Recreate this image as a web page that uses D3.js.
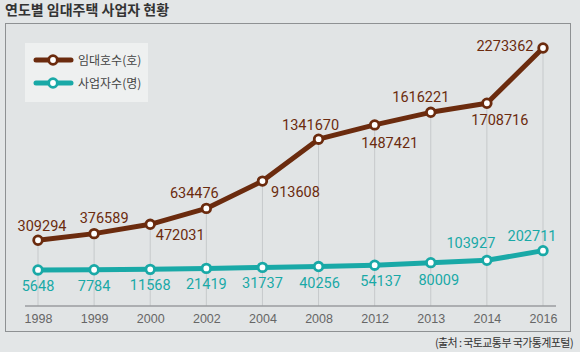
<!DOCTYPE html>
<html>
<head>
<meta charset="utf-8">
<script src="https://cdn.jsdelivr.net/npm/d3@7"></script>
<style>
  body { margin: 0; background: #e3e6e7; }
  svg { display: block; }
</style>
</head>
<body>
<div id="chart"></div>
<script>
let height = 352,
    width = 580;

// data
const years = ["1998", "1999", "2000", "2002", "2004", "2008", "2012", "2013", "2014", "2016"];
const houses = [309294, 376589, 472031, 634476, 913608, 1341670, 1487421, 1616221, 1708716, 2273362];
const owners = [5648, 7784, 11568, 21419, 31737, 40256, 54137, 80009, 103927, 202711];

// label placement (dx, baseline offset from point)
const houseLabelPos = [[4, -9], [10, -11], [30, 16], [-12, -10], [33, 16], [-8, -9], [15, 23], [-10, -10], [13, 22], [-38, 3]];
const ownerLabelPos = [[0, 21], [0, 21], [0, 21], [0, 21], [0, 21], [1, 21], [6, 21], [8, 22], [-16, -12], [-11, -10]];

const brown = "#6b2b0e",
      teal = "#19a9a7";

const svg = d3.select("#chart")
    .append("svg")
    .attr("width", width)
    .attr("height", height);

// title
svg.append("text")
    .attr("x", 5)
    .attr("y", 15)
    .attr("font-family", "'Noto Sans CJK KR', sans-serif")
    .attr("font-weight", 700)
    .attr("font-size", 14)
    .attr("fill", "#333")
    .text("연도별 임대주택 사업자 현황");

// frame
svg.append("rect")
    .attr("x", 5.5)
    .attr("y", 23.5)
    .attr("width", 565)
    .attr("height", 308)
    .attr("fill", "#e1e4e5")
    .attr("stroke", "#8e9193")
    .attr("stroke-width", 1);

let x = d3.scalePoint()
    .domain(years)
    .range([38, 543]);

let y = d3.scaleLinear()
    .domain([0, 2273362])
    .range([270.5, 48]);

// vertical guides
svg.append("g")
    .selectAll("line")
    .data(years)
    .join("line")
    .attr("x1", d => x(d))
    .attr("x2", d => x(d))
    .attr("y1", (d, i) => y(houses[i]))
    .attr("y2", 306)
    .attr("stroke", "#c6c9cb")
    .attr("stroke-width", 1);

// x axis
const xAxis = svg.append("g")
    .attr("transform", "translate(0,306)")
    .call(d3.axisBottom(x).tickSize(0).tickPadding(8));
xAxis.select(".domain")
    .attr("d", "M25,0H556")
    .attr("stroke", "#9a9d9f")
    .attr("stroke-width", 1.5);
xAxis.selectAll("text")
    .attr("font-family", "'Liberation Sans Narrow', sans-serif")
    .attr("font-size", 12.5)
    .attr("fill", "#666");

const line = d3.line()
    .x((d, i) => x(years[i]))
    .y(d => y(d));

function drawSeries(values, color, labelPos) {
    svg.append("path")
        .datum(values)
        .attr("d", line)
        .attr("fill", "none")
        .attr("stroke", color)
        .attr("stroke-width", 5)
        .attr("stroke-linejoin", "round");

    svg.append("g")
        .selectAll("circle")
        .data(values)
        .join("circle")
        .attr("cx", (d, i) => x(years[i]))
        .attr("cy", d => y(d))
        .attr("r", 4.3)
        .attr("fill", "#fff")
        .attr("stroke", color)
        .attr("stroke-width", 2.8);

    svg.append("g")
        .selectAll("text")
        .data(values)
        .join("text")
        .attr("x", (d, i) => x(years[i]) + labelPos[i][0])
        .attr("y", (d, i) => y(d) + labelPos[i][1])
        .attr("text-anchor", "middle")
        .attr("font-family", "Roboto, sans-serif")
        .attr("font-size", 14.5)
        .attr("fill", color)
        .text(d => d);
}

drawSeries(owners, teal, ownerLabelPos);
drawSeries(houses, brown, houseLabelPos);

// legend
const legend = svg.append("g");
legend.append("rect")
    .attr("x", 25)
    .attr("y", 43)
    .attr("width", 123)
    .attr("height", 59)
    .attr("fill", "#eef0f0");

const legendItems = [["임대호수(호)", brown], ["사업자수(명)", teal]];
legendItems.forEach(([name, color], i) => {
    const ly = 60 + i * 23;
    legend.append("line")
        .attr("x1", 36).attr("x2", 71)
        .attr("y1", ly).attr("y2", ly)
        .attr("stroke", color)
        .attr("stroke-width", 5)
        .attr("stroke-linecap", "round");
    legend.append("circle")
        .attr("cx", 53).attr("cy", ly)
        .attr("r", 4.3)
        .attr("fill", "#fff")
        .attr("stroke", color)
        .attr("stroke-width", 2.8);
    legend.append("text")
        .attr("x", 78)
        .attr("y", ly + 4.5)
        .attr("font-family", "'Noto Sans CJK KR', sans-serif")
        .attr("font-size", 12)
        .attr("fill", "#444")
        .text(name);
});

// source
svg.append("text")
    .attr("x", 573)
    .attr("y", 347)
    .attr("text-anchor", "end")
    .attr("font-family", "'Noto Sans CJK KR', sans-serif")
    .attr("font-size", 11)
    .attr("letter-spacing", -0.6)
    .attr("fill", "#333")
    .text("(출처 : 국토교통부 국가통계포털)");
</script>
</body>
</html>
